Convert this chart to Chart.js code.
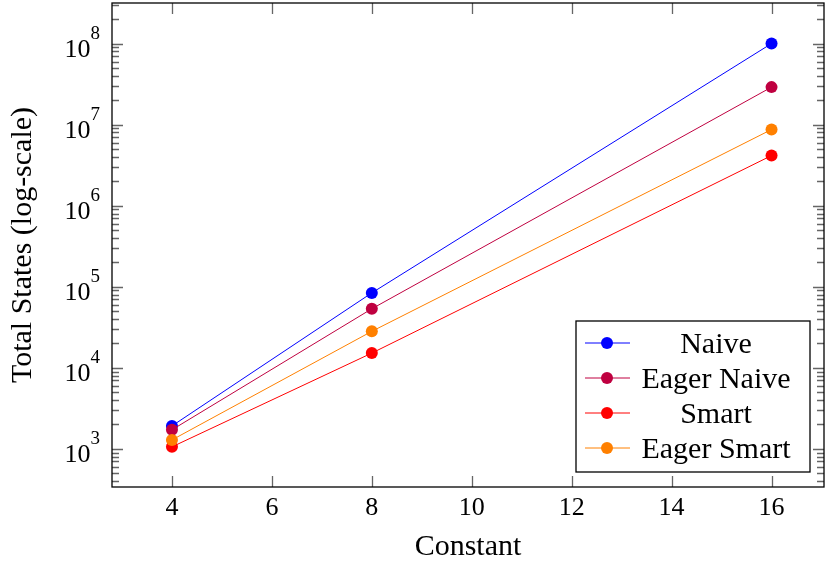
<!DOCTYPE html>
<html lang="en">
<head>
  <meta charset="UTF-8" />
  <title>Total States vs Constant</title>
  <script src="https://cdn.jsdelivr.net/npm/chart.js"></script>
  <style>
    html, body {
      margin: 0;
      padding: 0;
      background: #ffffff;
    }
    .chart-box {
      width: 826px;
      height: 565px;
      position: relative;
    }
  </style>
</head>
<body>
  <div class="chart-box">
    <canvas id="statesChart"></canvas>
  </div>

  <script>
    // data
    const constants = [4, 8, 16];
    const naive = [1920, 84000, 1.0e8];
    const eagerNaive = [1720, 53500, 2.9e7];
    const smart = [1060, 15200, 4.15e6];
    const eagerSmart = [1290, 28200, 8.7e6];

    const seriesNames = ["Naive", "Eager Naive", "Smart", "Eager Smart"];
    const xTicks = [4, 6, 8, 10, 12, 14, 16];
    const yExps = [3, 4, 5, 6, 7, 8];

    const serif = "'Liberation Serif', 'DejaVu Serif', serif";
    const colors = ["#0000ff", "#bf0040", "#ff0000", "#ff8000"];

    function makeSet(name, values, color, order) {
      return {
        label: name,
        data: constants.map((c, i) => ({ x: c, y: values[i] })),
        borderColor: color,
        backgroundColor: color,
        borderWidth: 1,
        pointRadius: 6,
        pointHoverRadius: 6,
        pointBorderWidth: 0,
        tension: 0,
        order: order
      };
    }

    // frame, inward ticks, 10^n labels and the boxed legend, pgfplots style
    const pgfStyle = {
      id: "pgfStyle",
      afterDraw(chart) {
        const ctx = chart.ctx;
        const a = chart.chartArea;
        const xs = chart.scales.x;
        const ys = chart.scales.y;
        ctx.save();

        // inward tick marks on all four sides
        ctx.strokeStyle = "#666666";
        ctx.lineWidth = 1.3;
        xTicks.forEach((v) => {
          const px = Math.round(xs.getPixelForValue(v)) + 0.5;
          ctx.beginPath();
          ctx.moveTo(px, a.bottom);
          ctx.lineTo(px, a.bottom - 11);
          ctx.moveTo(px, a.top);
          ctx.lineTo(px, a.top + 11);
          ctx.stroke();
        });
        [2].concat(yExps).forEach((e) => {
          for (let m = 1; m <= 9; m++) {
            const v = m * Math.pow(10, e);
            if (v < ys.min || v > ys.max) continue;
            const py = Math.round(ys.getPixelForValue(v)) + 0.5;
            const len = m === 1 ? 11 : 7;
            ctx.beginPath();
            ctx.moveTo(a.left, py);
            ctx.lineTo(a.left + len, py);
            ctx.moveTo(a.right, py);
            ctx.lineTo(a.right - len, py);
            ctx.stroke();
          }
        });

        ctx.strokeStyle = "#000";
        ctx.lineWidth = 1.3;
        ctx.strokeRect(a.left, a.top, a.right - a.left, a.bottom - a.top);

        // y tick labels as 10 with a raised exponent
        ctx.fillStyle = "#000";
        yExps.forEach((e) => {
          const py = ys.getPixelForValue(Math.pow(10, e));
          const rightX = a.left - 12;
          ctx.font = "19px " + serif;
          const supW = ctx.measureText(String(e)).width;
          ctx.textAlign = "left";
          ctx.textBaseline = "alphabetic";
          ctx.fillText(String(e), rightX - supW, py - 5);
          ctx.font = "26px " + serif;
          ctx.textAlign = "right";
          ctx.fillText("10", rightX - supW, py + 13);
        });

        // legend box
        const w = 234, h = 151;
        const left = a.right - 14 - w;
        const top = a.bottom - 15 - h;
        ctx.fillStyle = "#fff";
        ctx.fillRect(left, top, w, h);
        ctx.strokeStyle = "#000";
        ctx.lineWidth = 1.3;
        ctx.strokeRect(left, top, w, h);
        chart.data.datasets.forEach((ds, i) => {
          const ry = top + 22 + i * 35;
          ctx.strokeStyle = ds.borderColor;
          ctx.lineWidth = 1;
          ctx.beginPath();
          ctx.moveTo(left + 9, ry);
          ctx.lineTo(left + 54, ry);
          ctx.stroke();
          ctx.fillStyle = ds.backgroundColor;
          ctx.beginPath();
          ctx.arc(left + 31, ry, 6, 0, Math.PI * 2);
          ctx.fill();
          ctx.fillStyle = "#000";
          ctx.font = "30px " + serif;
          ctx.textAlign = "center";
          ctx.textBaseline = "alphabetic";
          ctx.fillText(ds.label, left + 140, ry + 10);
        });

        ctx.restore();
      }
    };

    new Chart(document.getElementById("statesChart"), {
      type: "line",
      data: {
        datasets: [
          makeSet(seriesNames[0], naive, colors[0], 3),
          makeSet(seriesNames[1], eagerNaive, colors[1], 2),
          makeSet(seriesNames[2], smart, colors[2], 1),
          makeSet(seriesNames[3], eagerSmart, colors[3], 0)
        ]
      },
      options: {
        responsive: true,
        maintainAspectRatio: false,
        animation: false,
        layout: { autoPadding: false, padding: { top: 3, right: 2, left: 0, bottom: 0 } },
        plugins: {
          legend: { display: false },
          tooltip: { enabled: false }
        },
        scales: {
          x: {
            type: "linear",
            min: 2.8,
            max: 17.05,
            afterBuildTicks: (scale) => {
              scale.ticks = xTicks.map((v) => ({ value: v }));
            },
            afterFit: (scale) => {
              scale.height = 78;
              scale.paddingLeft = 0;
              scale.paddingRight = 0;
            },
            grid: { display: false, drawTicks: false },
            border: { display: false },
            ticks: {
              color: "#000",
              padding: 6,
              maxRotation: 0,
              font: { family: serif, size: 26 }
            },
            title: {
              display: true,
              text: "Constant",
              color: "#000",
              padding: { top: 0, bottom: 0 },
              font: { family: serif, size: 30 }
            }
          },
          y: {
            type: "logarithmic",
            min: Math.pow(10, 2.53),
            max: Math.pow(10, 8.5),
            afterFit: (scale) => { scale.width = 112; },
            grid: { display: false, drawTicks: false },
            border: { display: false },
            ticks: { display: false },
            title: {
              display: true,
              text: "Total States (log-scale)",
              color: "#000",
              padding: { top: 5, bottom: 0 },
              font: { family: serif, size: 30 }
            }
          }
        }
      },
      plugins: [pgfStyle]
    });
  </script>
</body>
</html>
